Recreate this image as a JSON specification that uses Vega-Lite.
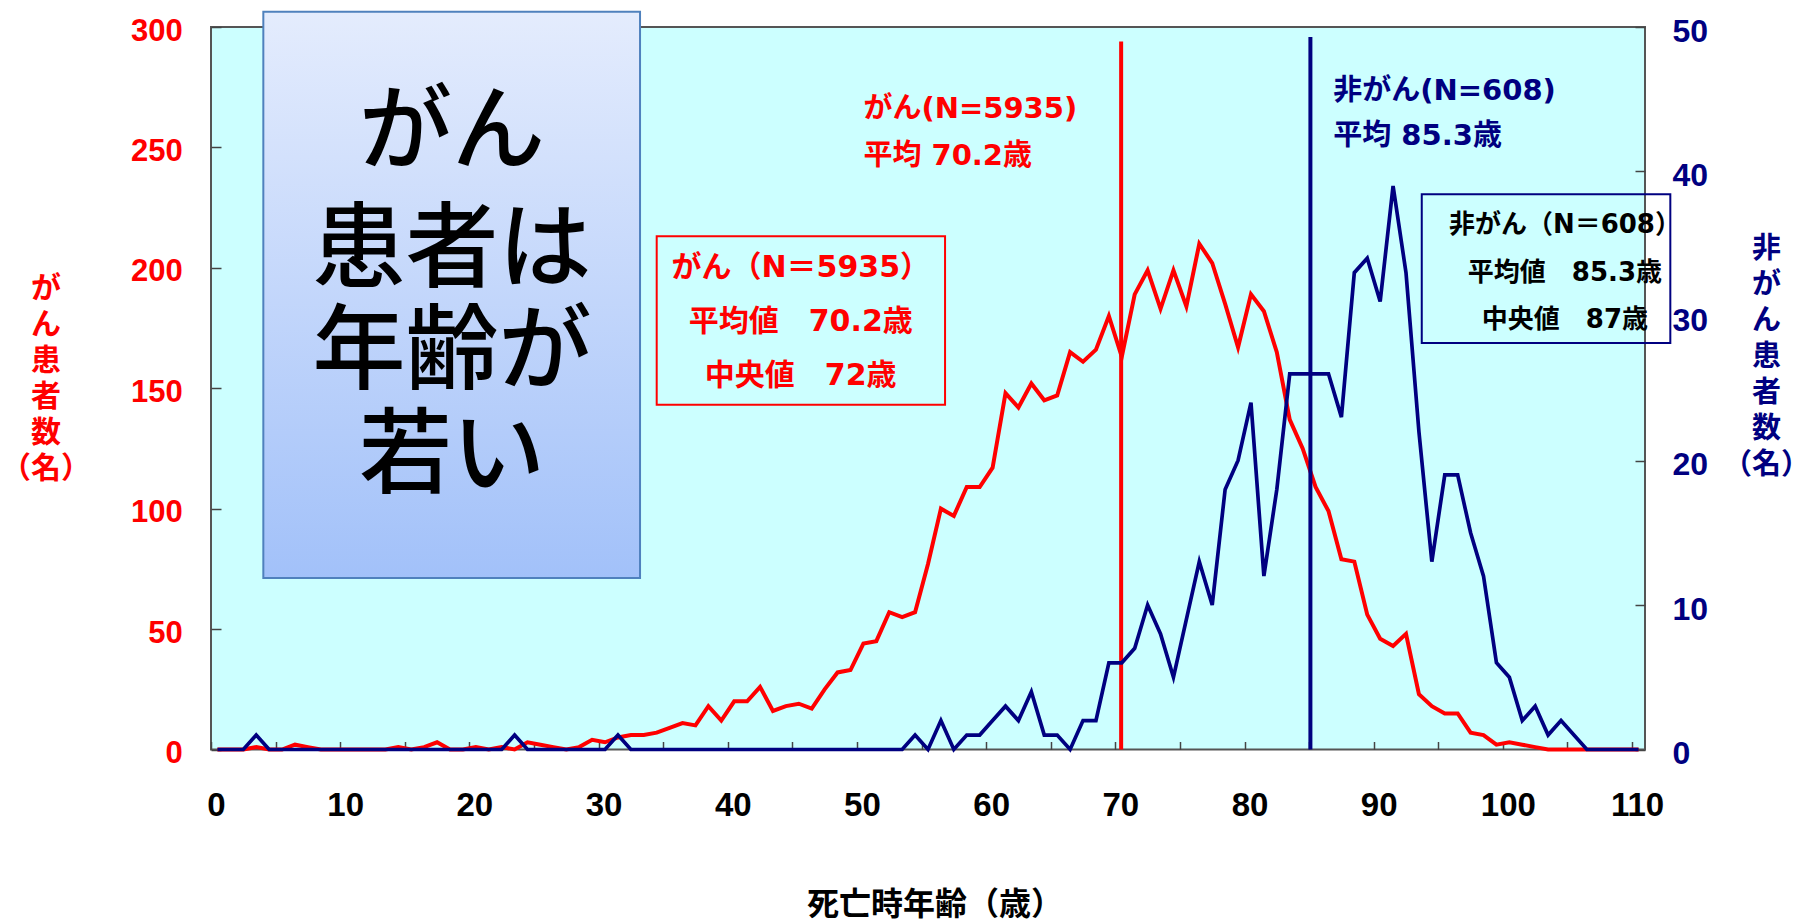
{
  "$schema": "https://vega.github.io/schema/vega-lite/v6.json",
  "width": 1434,
  "height": 722.5,
  "autosize": {"type": "none"},
  "padding": {"left": 211, "top": 27, "right": 165, "bottom": 173.5},
  "background": "#ffffff",
  "config": {
    "view": {"fill": "#ccffff", "stroke": "#555555", "strokeWidth": 2},
    "axis": {"grid": false, "domain": false}
  },
  "datasets": {
    "counts": [
      {"age": 0, "cancer": 0, "noncancer": 0}, {"age": 1, "cancer": 0, "noncancer": 0}, {"age": 2, "cancer": 0, "noncancer": 0},
      {"age": 3, "cancer": 1, "noncancer": 1}, {"age": 4, "cancer": 0, "noncancer": 0}, {"age": 5, "cancer": 0, "noncancer": 0},
      {"age": 6, "cancer": 2, "noncancer": 0}, {"age": 7, "cancer": 1, "noncancer": 0}, {"age": 8, "cancer": 0, "noncancer": 0},
      {"age": 9, "cancer": 0, "noncancer": 0}, {"age": 10, "cancer": 0, "noncancer": 0}, {"age": 11, "cancer": 0, "noncancer": 0},
      {"age": 12, "cancer": 0, "noncancer": 0}, {"age": 13, "cancer": 0, "noncancer": 0}, {"age": 14, "cancer": 1, "noncancer": 0},
      {"age": 15, "cancer": 0, "noncancer": 0}, {"age": 16, "cancer": 1, "noncancer": 0}, {"age": 17, "cancer": 3, "noncancer": 0},
      {"age": 18, "cancer": 0, "noncancer": 0}, {"age": 19, "cancer": 0, "noncancer": 0}, {"age": 20, "cancer": 1, "noncancer": 0},
      {"age": 21, "cancer": 0, "noncancer": 0}, {"age": 22, "cancer": 1, "noncancer": 0}, {"age": 23, "cancer": 0, "noncancer": 1},
      {"age": 24, "cancer": 3, "noncancer": 0}, {"age": 25, "cancer": 2, "noncancer": 0}, {"age": 26, "cancer": 1, "noncancer": 0},
      {"age": 27, "cancer": 0, "noncancer": 0}, {"age": 28, "cancer": 1, "noncancer": 0}, {"age": 29, "cancer": 4, "noncancer": 0},
      {"age": 30, "cancer": 3, "noncancer": 0}, {"age": 31, "cancer": 5, "noncancer": 1}, {"age": 32, "cancer": 6, "noncancer": 0},
      {"age": 33, "cancer": 6, "noncancer": 0}, {"age": 34, "cancer": 7, "noncancer": 0}, {"age": 35, "cancer": 9, "noncancer": 0},
      {"age": 36, "cancer": 11, "noncancer": 0}, {"age": 37, "cancer": 10, "noncancer": 0}, {"age": 38, "cancer": 18, "noncancer": 0},
      {"age": 39, "cancer": 12, "noncancer": 0}, {"age": 40, "cancer": 20, "noncancer": 0}, {"age": 41, "cancer": 20, "noncancer": 0},
      {"age": 42, "cancer": 26, "noncancer": 0}, {"age": 43, "cancer": 16, "noncancer": 0}, {"age": 44, "cancer": 18, "noncancer": 0},
      {"age": 45, "cancer": 19, "noncancer": 0}, {"age": 46, "cancer": 17, "noncancer": 0}, {"age": 47, "cancer": 25, "noncancer": 0},
      {"age": 48, "cancer": 32, "noncancer": 0}, {"age": 49, "cancer": 33, "noncancer": 0}, {"age": 50, "cancer": 44, "noncancer": 0},
      {"age": 51, "cancer": 45, "noncancer": 0}, {"age": 52, "cancer": 57, "noncancer": 0}, {"age": 53, "cancer": 55, "noncancer": 0},
      {"age": 54, "cancer": 57, "noncancer": 1}, {"age": 55, "cancer": 77, "noncancer": 0}, {"age": 56, "cancer": 100, "noncancer": 2},
      {"age": 57, "cancer": 97, "noncancer": 0}, {"age": 58, "cancer": 109, "noncancer": 1}, {"age": 59, "cancer": 109, "noncancer": 1},
      {"age": 60, "cancer": 117, "noncancer": 2}, {"age": 61, "cancer": 148, "noncancer": 3}, {"age": 62, "cancer": 142, "noncancer": 2},
      {"age": 63, "cancer": 152, "noncancer": 4}, {"age": 64, "cancer": 145, "noncancer": 1}, {"age": 65, "cancer": 147, "noncancer": 1},
      {"age": 66, "cancer": 165, "noncancer": 0}, {"age": 67, "cancer": 161, "noncancer": 2}, {"age": 68, "cancer": 166, "noncancer": 2},
      {"age": 69, "cancer": 180, "noncancer": 6}, {"age": 70, "cancer": 163, "noncancer": 6}, {"age": 71, "cancer": 189, "noncancer": 7},
      {"age": 72, "cancer": 199, "noncancer": 10}, {"age": 73, "cancer": 183, "noncancer": 8}, {"age": 74, "cancer": 199, "noncancer": 5},
      {"age": 75, "cancer": 184, "noncancer": 9}, {"age": 76, "cancer": 210, "noncancer": 13}, {"age": 77, "cancer": 202, "noncancer": 10},
      {"age": 78, "cancer": 185, "noncancer": 18}, {"age": 79, "cancer": 167, "noncancer": 20}, {"age": 80, "cancer": 189, "noncancer": 24},
      {"age": 81, "cancer": 182, "noncancer": 12}, {"age": 82, "cancer": 165, "noncancer": 18}, {"age": 83, "cancer": 137, "noncancer": 26},
      {"age": 84, "cancer": 125, "noncancer": 26}, {"age": 85, "cancer": 109, "noncancer": 26}, {"age": 86, "cancer": 99, "noncancer": 26},
      {"age": 87, "cancer": 79, "noncancer": 23}, {"age": 88, "cancer": 78, "noncancer": 33}, {"age": 89, "cancer": 56, "noncancer": 34},
      {"age": 90, "cancer": 46, "noncancer": 31}, {"age": 91, "cancer": 43, "noncancer": 39}, {"age": 92, "cancer": 48, "noncancer": 33},
      {"age": 93, "cancer": 23, "noncancer": 22}, {"age": 94, "cancer": 18, "noncancer": 13}, {"age": 95, "cancer": 15, "noncancer": 19},
      {"age": 96, "cancer": 15, "noncancer": 19}, {"age": 97, "cancer": 7, "noncancer": 15}, {"age": 98, "cancer": 6, "noncancer": 12},
      {"age": 99, "cancer": 2, "noncancer": 6}, {"age": 100, "cancer": 3, "noncancer": 5}, {"age": 101, "cancer": 2, "noncancer": 2},
      {"age": 102, "cancer": 1, "noncancer": 3}, {"age": 103, "cancer": 0, "noncancer": 1}, {"age": 104, "cancer": 0, "noncancer": 2},
      {"age": 105, "cancer": 0, "noncancer": 1}, {"age": 106, "cancer": 0, "noncancer": 0}, {"age": 107, "cancer": 0, "noncancer": 0},
      {"age": 108, "cancer": 0, "noncancer": 0}, {"age": 109, "cancer": 0, "noncancer": 0}, {"age": 110, "cancer": 0, "noncancer": 0}
    ],
    "boxes": [
      {"box": "title", "x1": 3.55, "x2": 32.71, "y1": 306.3, "y2": 71.2},
      {"box": "red", "x1": 34.0, "x2": 56.32, "y1": 213.1, "y2": 143.1},
      {"box": "navy", "x1": 93.22, "x2": 112.46, "y1": 230.6, "y2": 168.8}
    ],
    "notes": [
      {"note": "big", "text": "がん", "x": 18.16, "y": 255.4},
      {"note": "big", "text": "患者は", "x": 18.16, "y": 206.5},
      {"note": "big", "text": "年齢が", "x": 18.16, "y": 164.3},
      {"note": "big", "text": "若い", "x": 18.16, "y": 121.2},
      {"note": "redbox", "text": "がん（N＝5935）", "x": 45.15, "y": 199.8},
      {"note": "redbox", "text": "平均値　70.2歳", "x": 45.15, "y": 177.4},
      {"note": "redbox", "text": "中央値　72歳", "x": 45.15, "y": 154.9},
      {"note": "redfree", "text": "がん(N=5935)", "x": 50.0, "y": 265.9},
      {"note": "redfree", "text": "平均 70.2歳", "x": 50.0, "y": 246.5},
      {"note": "bluefree", "text": "非がん(N=608)", "x": 86.37, "y": 273.3},
      {"note": "bluefree", "text": "平均 85.3歳", "x": 86.37, "y": 254.9},
      {"note": "navybox", "text": "非がん（N＝608）", "x": 104.3, "y": 217.8},
      {"note": "navybox", "text": "平均値　85.3歳", "x": 104.3, "y": 197.7},
      {"note": "navybox", "text": "中央値　87歳", "x": 104.3, "y": 178.3}
    ],
    "means": [
      {"series": "cancer", "age": 69.95, "bottom": 0, "top": 294},
      {"series": "noncancer", "age": 84.6, "bottom": 0, "top": 49.3}
    ]
  },
  "layer": [
    {
      "layer": [
        {
          "data": {"name": "boxes"},
          "transform": [{"filter": "datum.box === 'title'"}],
          "mark": {"type": "rect", "fill": {"gradient": "linear", "x1": 0, "y1": 0, "x2": 0, "y2": 1, "stops": [{"offset": 0, "color": "#e4ecfd"}, {"offset": 1, "color": "#a2c1f9"}]}, "stroke": "#4f81bd", "strokeWidth": 2},
          "encoding": {
            "x": {"field": "x1", "type": "quantitative", "scale": {"domain": [-0.5, 110.5], "nice": false, "zero": false}},
            "x2": {"field": "x2"},
            "y": {"field": "y1", "type": "quantitative", "scale": {"domain": [0, 300], "nice": false}},
            "y2": {"field": "y2"}
          }
        },
        {
          "data": {"name": "boxes"},
          "transform": [{"filter": "datum.box === 'red'"}],
          "mark": {"type": "rect", "fill": "#ffffff", "fillOpacity": 0, "stroke": "#ff0000", "strokeWidth": 2},
          "encoding": {
            "x": {"field": "x1", "type": "quantitative", "scale": {"domain": [-0.5, 110.5], "nice": false, "zero": false}},
            "x2": {"field": "x2"},
            "y": {"field": "y1", "type": "quantitative", "scale": {"domain": [0, 300], "nice": false}},
            "y2": {"field": "y2"}
          }
        },
        {
          "data": {"name": "boxes"},
          "transform": [{"filter": "datum.box === 'navy'"}],
          "mark": {"type": "rect", "fill": "#ffffff", "fillOpacity": 0, "stroke": "#000080", "strokeWidth": 2},
          "encoding": {
            "x": {"field": "x1", "type": "quantitative", "scale": {"domain": [-0.5, 110.5], "nice": false, "zero": false}},
            "x2": {"field": "x2"},
            "y": {"field": "y1", "type": "quantitative", "scale": {"domain": [0, 300], "nice": false}},
            "y2": {"field": "y2"}
          }
        },
        {
          "data": {"name": "notes"},
          "transform": [{"filter": "datum.note === 'big'"}],
          "mark": {"type": "text", "font": "Noto Sans CJK JP", "fontSize": 93, "fontWeight": 500, "color": "#000000", "align": "center", "baseline": "middle"},
          "encoding": {
            "x": {"field": "x", "type": "quantitative", "scale": {"domain": [-0.5, 110.5], "nice": false, "zero": false}},
            "y": {"field": "y", "type": "quantitative", "scale": {"domain": [0, 300], "nice": false}},
            "text": {"field": "text"}
          }
        },
        {
          "data": {"name": "notes"},
          "transform": [{"filter": "datum.note === 'redbox'"}],
          "mark": {"type": "text", "font": "DejaVu Sans, Noto Sans CJK JP", "fontSize": 30, "fontWeight": "bold", "color": "#ff0000", "align": "center", "baseline": "middle"},
          "encoding": {
            "x": {"field": "x", "type": "quantitative", "scale": {"domain": [-0.5, 110.5], "nice": false, "zero": false}},
            "y": {"field": "y", "type": "quantitative", "scale": {"domain": [0, 300], "nice": false}},
            "text": {"field": "text"}
          }
        },
        {
          "data": {"name": "notes"},
          "transform": [{"filter": "datum.note === 'redfree'"}],
          "mark": {"type": "text", "font": "DejaVu Sans, Noto Sans CJK JP", "fontSize": 29, "fontWeight": "bold", "color": "#ff0000", "align": "left", "baseline": "middle"},
          "encoding": {
            "x": {"field": "x", "type": "quantitative", "scale": {"domain": [-0.5, 110.5], "nice": false, "zero": false}},
            "y": {"field": "y", "type": "quantitative", "scale": {"domain": [0, 300], "nice": false}},
            "text": {"field": "text"}
          }
        },
        {
          "data": {"name": "notes"},
          "transform": [{"filter": "datum.note === 'bluefree'"}],
          "mark": {"type": "text", "font": "DejaVu Sans, Noto Sans CJK JP", "fontSize": 29, "fontWeight": "bold", "color": "#000080", "align": "left", "baseline": "middle"},
          "encoding": {
            "x": {"field": "x", "type": "quantitative", "scale": {"domain": [-0.5, 110.5], "nice": false, "zero": false}},
            "y": {"field": "y", "type": "quantitative", "scale": {"domain": [0, 300], "nice": false}},
            "text": {"field": "text"}
          }
        },
        {
          "data": {"name": "notes"},
          "transform": [{"filter": "datum.note === 'navybox'"}],
          "mark": {"type": "text", "font": "DejaVu Sans, Noto Sans CJK JP", "fontSize": 26, "fontWeight": "bold", "color": "#000000", "align": "center", "baseline": "middle"},
          "encoding": {
            "x": {"field": "x", "type": "quantitative", "scale": {"domain": [-0.5, 110.5], "nice": false, "zero": false}},
            "y": {"field": "y", "type": "quantitative", "scale": {"domain": [0, 300], "nice": false}},
            "text": {"field": "text"}
          }
        },
        {
          "data": {"name": "counts"},
          "mark": {"type": "line", "color": "#ff0000", "strokeWidth": 4},
          "encoding": {
            "x": {
              "field": "age", "type": "quantitative",
              "scale": {"domain": [-0.5, 110.5], "nice": false, "zero": false},
              "axis": {
                "values": [0, 5, 10, 15, 20, 25, 30, 35, 40, 45, 50, 55, 60, 65, 70, 75, 80, 85, 90, 95, 100, 105, 110],
                "labelExpr": "datum.value % 10 === 0 ? datum.label : ''",
                "domain": false, "grid": false, "ticks": true,
                "tickSize": -8, "tickOffset": -6.46, "tickColor": "#444444", "tickWidth": 1.5,
                "labelOffset": 5,
                "labelFont": "Liberation Sans", "labelFontSize": 33, "labelFontWeight": "bold", "labelColor": "#000000",
                "labelBaseline": "top", "labelPadding": 47.5, "labelFlush": false, "labelOverlap": false,
                "title": "死亡時年齢（歳）", "titleFont": "Noto Sans CJK JP", "titleFontSize": 32, "titleFontWeight": "bold", "titleColor": "#000000",
                "titleBaseline": "middle", "titleX": 723.4, "titleY": 154.5
              }
            },
            "y": {
              "field": "cancer", "type": "quantitative",
              "scale": {"domain": [0, 300], "nice": false},
              "axis": {
                "orient": "left",
                "values": [0, 50, 100, 150, 200, 250, 300],
                "domain": false, "grid": false, "ticks": true,
                "tickSize": -10, "tickColor": "#444444", "tickWidth": 1.5,
                "labelFont": "Liberation Sans", "labelFontSize": 31, "labelFontWeight": "bold", "labelColor": "#ff0000",
                "labelPadding": 38.7, "labelOffset": 4, "labelBaseline": "middle", "labelAlign": "right", "labelFlush": false, "labelOverlap": false,
                "title": ["が", "ん", "患", "者", "数", "（名）"],
                "titleFont": "Noto Sans CJK JP", "titleFontSize": 30, "titleFontWeight": "bold", "titleColor": "#ff0000",
                "titleAngle": 0, "titleAlign": "center", "titleBaseline": "top", "titleLineHeight": 36,
                "titleX": -165.5, "titleY": 246
              }
            }
          }
        },
        {
          "data": {"name": "means"},
          "transform": [{"filter": "datum.series === 'cancer'"}],
          "mark": {"type": "rule", "color": "#ff0000", "strokeWidth": 4},
          "encoding": {
            "x": {"field": "age", "type": "quantitative", "scale": {"domain": [-0.5, 110.5], "nice": false, "zero": false}},
            "y": {"field": "bottom", "type": "quantitative", "scale": {"domain": [0, 300], "nice": false}},
            "y2": {"field": "top"}
          }
        }
      ]
    },
    {
      "layer": [
        {
          "data": {"name": "counts"},
          "mark": {"type": "line", "color": "#000080", "strokeWidth": 3.7},
          "encoding": {
            "x": {"field": "age", "type": "quantitative", "scale": {"domain": [-0.5, 110.5], "nice": false, "zero": false}},
            "y": {
              "field": "noncancer", "type": "quantitative",
              "scale": {"domain": [0, 50], "nice": false},
              "axis": {
                "orient": "right",
                "values": [0, 10, 20, 30, 40, 50],
                "domain": false, "grid": false, "ticks": true,
                "tickSize": -10, "tickColor": "#444444", "tickWidth": 1.5,
                "labelFont": "Liberation Sans", "labelFontSize": 32, "labelFontWeight": "bold", "labelColor": "#000080",
                "labelPadding": 37, "labelOffset": 4, "labelBaseline": "middle", "labelAlign": "left", "labelFlush": false, "labelOverlap": false,
                "title": ["非", "が", "ん", "患", "者", "数", "（名）"],
                "titleFont": "Noto Sans CJK JP", "titleFontSize": 29, "titleFontWeight": "bold", "titleColor": "#000080",
                "titleAngle": 0, "titleAlign": "center", "titleBaseline": "top", "titleLineHeight": 36,
                "titleX": 121, "titleY": 207.5
              }
            }
          }
        },
        {
          "data": {"name": "means"},
          "transform": [{"filter": "datum.series === 'noncancer'"}],
          "mark": {"type": "rule", "color": "#000080", "strokeWidth": 4},
          "encoding": {
            "x": {"field": "age", "type": "quantitative", "scale": {"domain": [-0.5, 110.5], "nice": false, "zero": false}},
            "y": {"field": "bottom", "type": "quantitative", "scale": {"domain": [0, 50], "nice": false}},
            "y2": {"field": "top"}
          }
        }
      ]
    }
  ],
  "resolve": {"scale": {"y": "independent"}}
}
